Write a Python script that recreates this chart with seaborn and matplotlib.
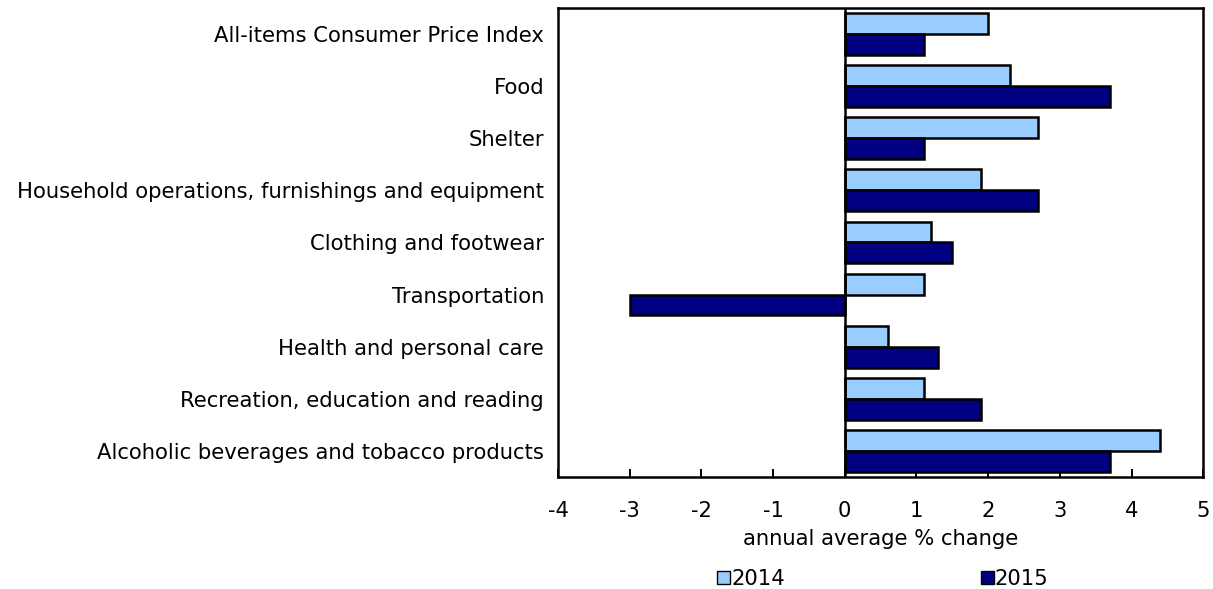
import matplotlib
matplotlib.use("Agg")
import matplotlib.pyplot as plt
import seaborn as sns
import pandas as pd
from matplotlib.patches import Patch

categories = [
    "All-items Consumer Price Index",
    "Food",
    "Shelter",
    "Household operations, furnishings and equipment",
    "Clothing and footwear",
    "Transportation",
    "Health and personal care",
    "Recreation, education and reading",
    "Alcoholic beverages and tobacco products",
]
values_2014 = [2.0, 2.3, 2.7, 1.9, 1.2, 1.1, 0.6, 1.1, 4.4]
values_2015 = [1.1, 3.7, 1.1, 2.7, 1.5, -3.0, 1.3, 1.9, 3.7]
years = ["2014", "2015"]
x_ticks = [-4, -3, -2, -1, 0, 1, 2, 3, 4, 5]

df = pd.DataFrame({
    "category": categories * 2,
    "value": values_2014 + values_2015,
    "year": [years[0]] * len(categories) + [years[1]] * len(categories),
})

sns.set_theme(style="white")
plt.rcParams["font.family"] = ["DejaVu Sans"]
plt.rcParams["text.color"] = "black"
plt.rcParams["axes.labelcolor"] = "black"
plt.rcParams["xtick.color"] = "black"
plt.rcParams["ytick.color"] = "black"

colors = ["#99CCFF", "#000080"]
FS = 15.2

fig = plt.figure(figsize=(12.13, 5.89), dpi=100)
ax = fig.add_axes([0.46, 0.19, 0.532, 0.797])

sns.barplot(data=df, y="category", x="value", hue="year", orient="h",
            palette=colors, saturation=1, edgecolor="black", linewidth=1.8,
            width=0.8, ax=ax, legend=False)

ax.set_xlim(-4, 5)
ax.set_xticks(x_ticks)
ax.set_xticklabels([str(t) for t in x_ticks], fontsize=FS)
ax.tick_params(axis="x", direction="in", length=6, width=1.4, color="black",
               bottom=True, pad=17)
ax.tick_params(axis="y", left=False, labelsize=FS, pad=4)
ax.set_ylabel("")
ax.set_xlabel("annual average % change", fontsize=FS, labelpad=6)
ax.axvline(0, color="black", linewidth=1.8, zorder=5)
for s in ax.spines.values():
    s.set_color("black")
    s.set_linewidth(1.8)
ax.grid(False)

handles = [Patch(facecolor=c, edgecolor="black", linewidth=1.0) for c in colors]
fig.legend(handles, years, loc="lower center", bbox_to_anchor=(0.728, -0.032),
           ncol=2, frameon=False, fontsize=FS, handlelength=0.6,
           handleheight=0.6, handletextpad=0.05, columnspacing=9.3)

fig.savefig("out.png", dpi=100)
